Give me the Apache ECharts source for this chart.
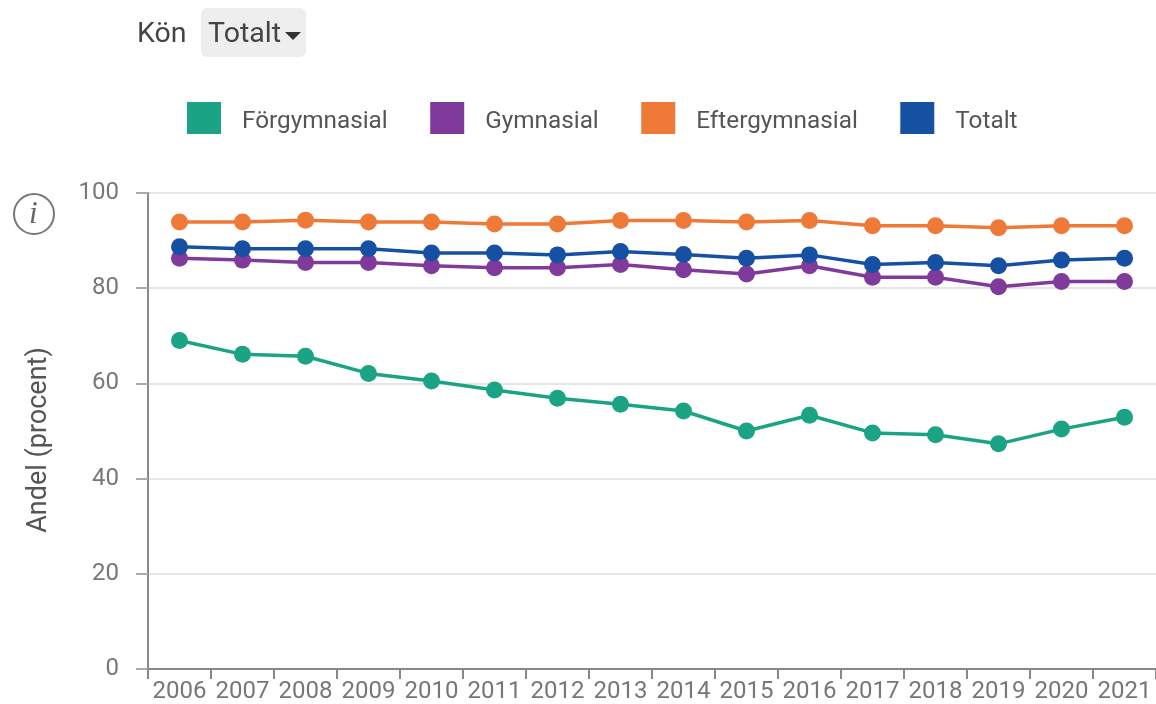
<!DOCTYPE html>
<html><head><meta charset="utf-8">
<style>html,body{margin:0;padding:0;background:#fff}#c{width:1156px;height:704px}</style>
<script src="https://cdn.jsdelivr.net/npm/echarts@6/dist/echarts.min.js"></script>
</head><body><div id="c"></div>
<script>
const years = ['2006','2007','2008','2009','2010','2011','2012','2013','2014','2015','2016','2017','2018','2019','2020','2021'];
const forgymnasial = [69,66.1,65.7,62.1,60.5,58.6,56.9,55.6,54.2,50,53.3,49.6,49.2,47.3,50.4,52.9];
const gymnasial = [86.3,85.9,85.4,85.4,84.7,84.3,84.3,85,83.9,83,84.7,82.3,82.3,80.3,81.4,81.4];
const eftergymnasial = [93.9,93.9,94.3,93.9,93.9,93.5,93.5,94.2,94.2,93.9,94.2,93.1,93.1,92.7,93.1,93.1];
const totalt = [88.7,88.3,88.3,88.3,87.4,87.4,87,87.7,87.1,86.3,87,85,85.4,84.7,85.9,86.3];
const font = 'Roboto';
const mk = (name, data, color) => ({name, data, type:'line', color, symbol:'circle', symbolSize:17,
  lineStyle:{width:3.5,color}, itemStyle:{color}, animation:false});
const chart = echarts.init(document.getElementById('c'), null, {renderer:'canvas'});
chart.setOption({
  animation:false,
  backgroundColor:'#fff',
  textStyle:{fontFamily:font},
  grid:{left:148,right:0,top:193,height:480},
  legend:{left:187,top:102,padding:0,icon:'rect',itemWidth:34,itemHeight:32,itemGap:42.5,
    formatter:n=>'{t|'+n+'}',
    textStyle:{fontFamily:font,fontSize:24.3,color:'#555',
      rich:{t:{fontFamily:font,fontSize:24.3,color:'#555',padding:[8,0,0,16]}}},
    data:['Förgymnasial','Gymnasial','Eftergymnasial','Totalt']},
  xAxis:{type:'category',data:years,boundaryGap:true,
    axisLine:{lineStyle:{color:'#888',width:2}},
    axisTick:{show:true,alignWithLabel:false,length:10,lineStyle:{color:'#888',width:2}},
    axisLabel:{fontFamily:font,fontSize:24,color:'#777',margin:11,interval:0}},
  yAxis:{type:'value',min:0,max:100,interval:20,
    name:'Andel (procent)',nameLocation:'middle',nameGap:95,
    nameTextStyle:{fontFamily:font,fontSize:27,color:'#555',padding:[0,18,0,0]},
    axisLine:{show:true,lineStyle:{color:'#888',width:2}},
    axisTick:{show:true,length:12,lineStyle:{color:'#aaa',width:2}},
    axisLabel:{fontFamily:font,fontSize:24,color:'#777',margin:29},
    splitLine:{lineStyle:{color:'#ddd',width:1.5}}},
  series:[mk('Förgymnasial',forgymnasial,'#1ba385'),
          mk('Gymnasial',gymnasial,'#7f3a9c'),
          mk('Eftergymnasial',eftergymnasial,'#ef7936'),
          mk('Totalt',totalt,'#1650a3')],
  graphic:[
    {type:'text',left:137,top:20,style:{text:'Kön',font:'28.5px Roboto',fill:'#444'}},
    {type:'rect',left:201,top:8,shape:{width:105,height:49,r:6},style:{fill:'#eeeeee'}},
    {type:'text',left:208,top:20,style:{text:'Totalt',font:'28.5px Roboto',fill:'#444'}},
    {type:'polygon',shape:{points:[[285,32],[301,32],[293,40]]},style:{fill:'#333'}},
    {type:'circle',shape:{cx:34,cy:214,r:20},style:{fill:'#fff',stroke:'#777',lineWidth:2}},
    {type:'text',left:29,top:199,style:{text:'i',font:'italic 31px "Liberation Serif"',fill:'#666'}}
  ]
});
</script></body></html>
